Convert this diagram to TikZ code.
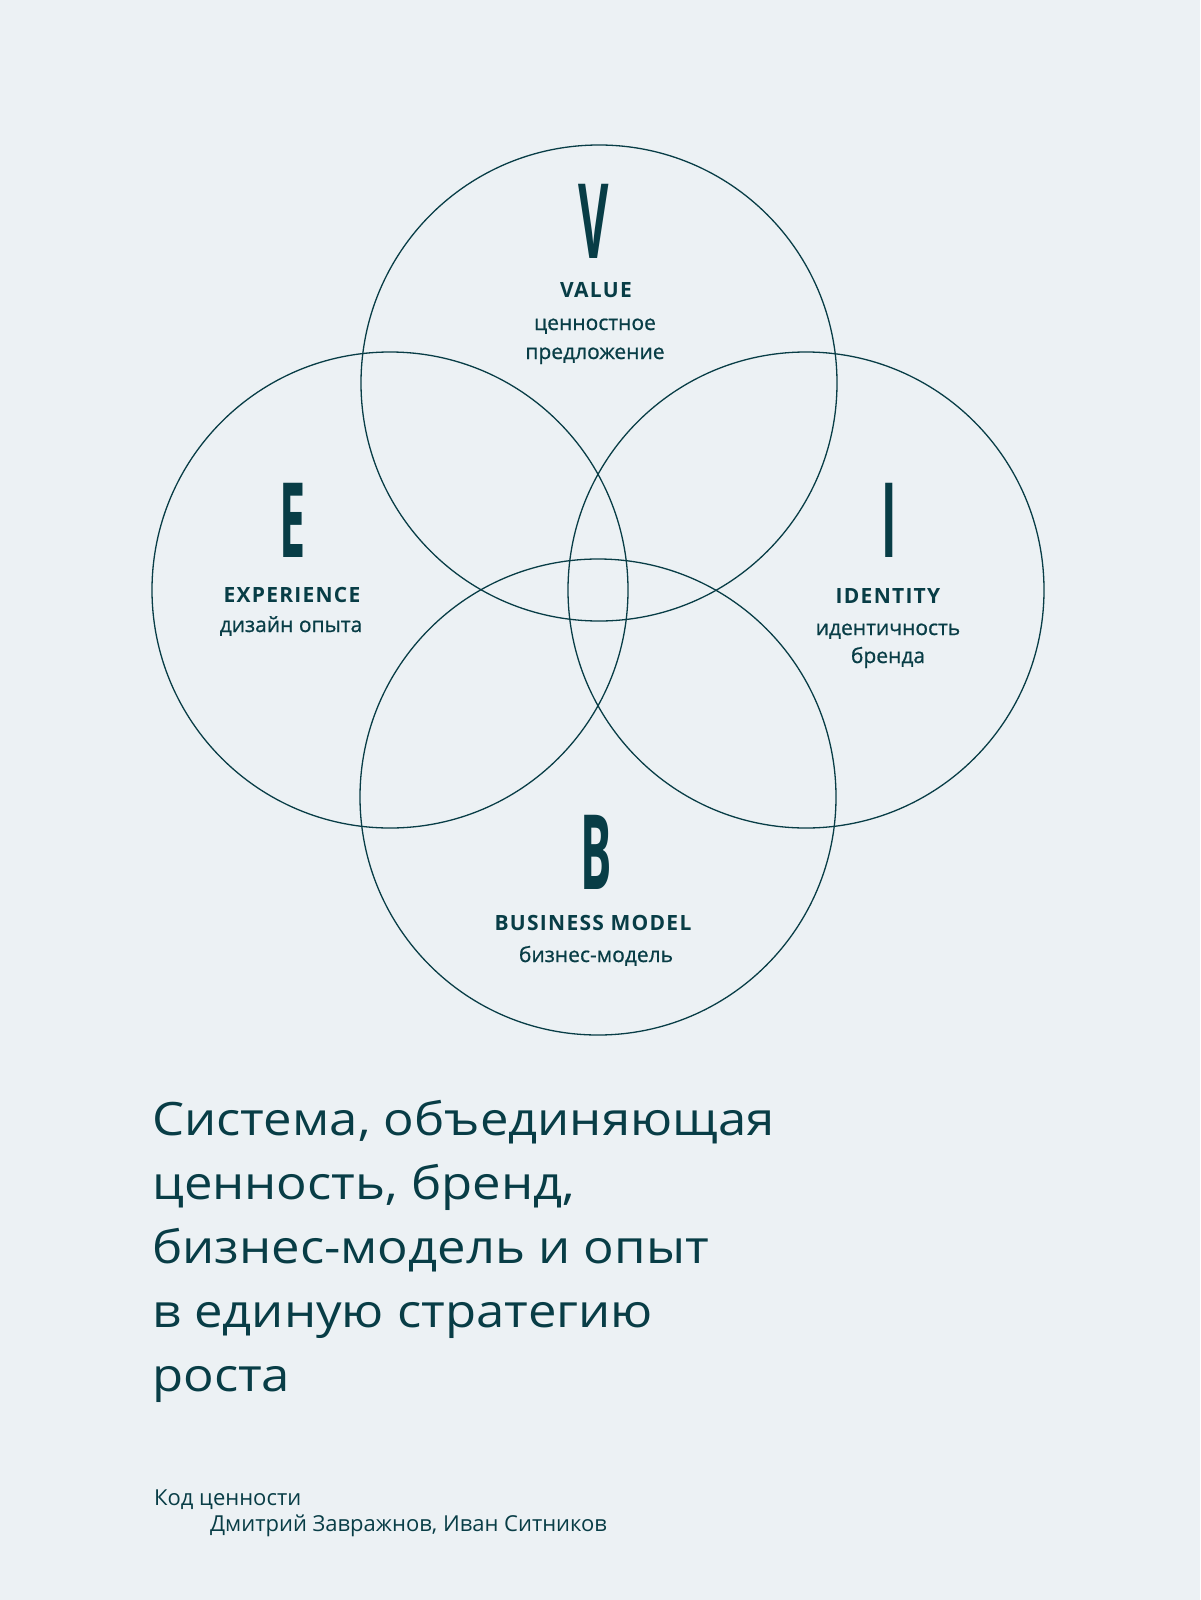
\documentclass[tikz,border=0pt]{standalone}
\usepackage{fontspec}
\setmainfont{Open Sans}
\newfontfamily\capfont[LetterSpace=6]{Open Sans}
\newfontfamily\subfont[FakeBold=0.8]{Open Sans}
\usetikzlibrary{positioning}
\definecolor{ink}{RGB}{8,61,70}
\definecolor{paper}{RGB}{236,241,244}
\tikzset{
  ring/.style={draw=ink, line width=1.3pt},
  bigletter/.style={text=ink, inner sep=0pt, anchor=base,
    font=\bfseries\fontsize{104}{104}\selectfont},
  caplabel/.style={text=ink, inner sep=0pt, anchor=base,
    font=\capfont\bfseries\fontsize{21}{21}\selectfont},
  sublabel/.style={text=ink, inner sep=0pt, anchor=base,
    font=\subfont\fontsize{21}{21}\selectfont},
  headline/.style={text=ink, inner sep=0pt, anchor=base west,
    font=\fontsize{46}{46}\selectfont},
  footline/.style={text=ink, inner sep=0pt, anchor=base west,
    font=\fontsize{22}{22}\selectfont}
}
\newcommand{\narrow}[1]{\scalebox{0.45}[1]{#1}}
\newcommand{\wide}[1]{\scalebox{1.105}[1]{#1}}

\begin{document}
\begin{tikzpicture}[x=1pt,y=-1pt]
  \fill[paper] (0,0) rectangle (1200,1600);
  \useasboundingbox (0,0) rectangle (1200,1600);
  % the four circles
  \draw[ring] (599,383) circle (238);
  \draw[ring] (390,590) circle (238);
  \draw[ring] (806,590) circle (238);
  \draw[ring] (598,797) circle (238);
  % value
  \node[bigletter] (vletter) at (594,258) {\narrow{V}};
  \node[caplabel] (vtitle) at (596,297) {VALUE};
  \node[sublabel] (vsub1) at (595,330) {ценностное};
  \node[sublabel] (vsub2) at (595,359) {предложение};
  % experience
  \node[bigletter] (eletter) at (293,557) {\narrow{E}};
  \node[caplabel] (etitle) at (292,602) {EXPERIENCE};
  \node[sublabel] (esub1) at (291,632) {дизайн опыта};
  % identity
  \node[bigletter] (iletter) at (889,557) {\narrow{I}};
  \node[caplabel] (ititle) at (888,603) {IDENTITY};
  \node[sublabel] (isub1) at (888,635) {идентичность};
  \node[sublabel] (isub2) at (888,663) {бренда};
  % business model
  \node[bigletter] (bletter) at (596,889) {\narrow{B}};
  \node[caplabel] (btitle) at (593,930) {BUSINESS MODEL};
  \node[sublabel] (bsub1) at (596,962) {бизнес-модель};
  % headline
  \foreach \txt [count=\i] in {{Система, объединяющая},{ценность, бренд,},
      {бизнес-модель и опыт},{в единую стратегию},{роста}}
    \node[headline] (line\i) at (152,1071+64*\i) {\wide{\txt}};
  % footer
  \node[footline] (book) at (154,1505) {Код ценности};
  \node[footline] (authors) at (210,1531) {Дмитрий Завражнов, Иван Ситников};
\end{tikzpicture}
\end{document}
